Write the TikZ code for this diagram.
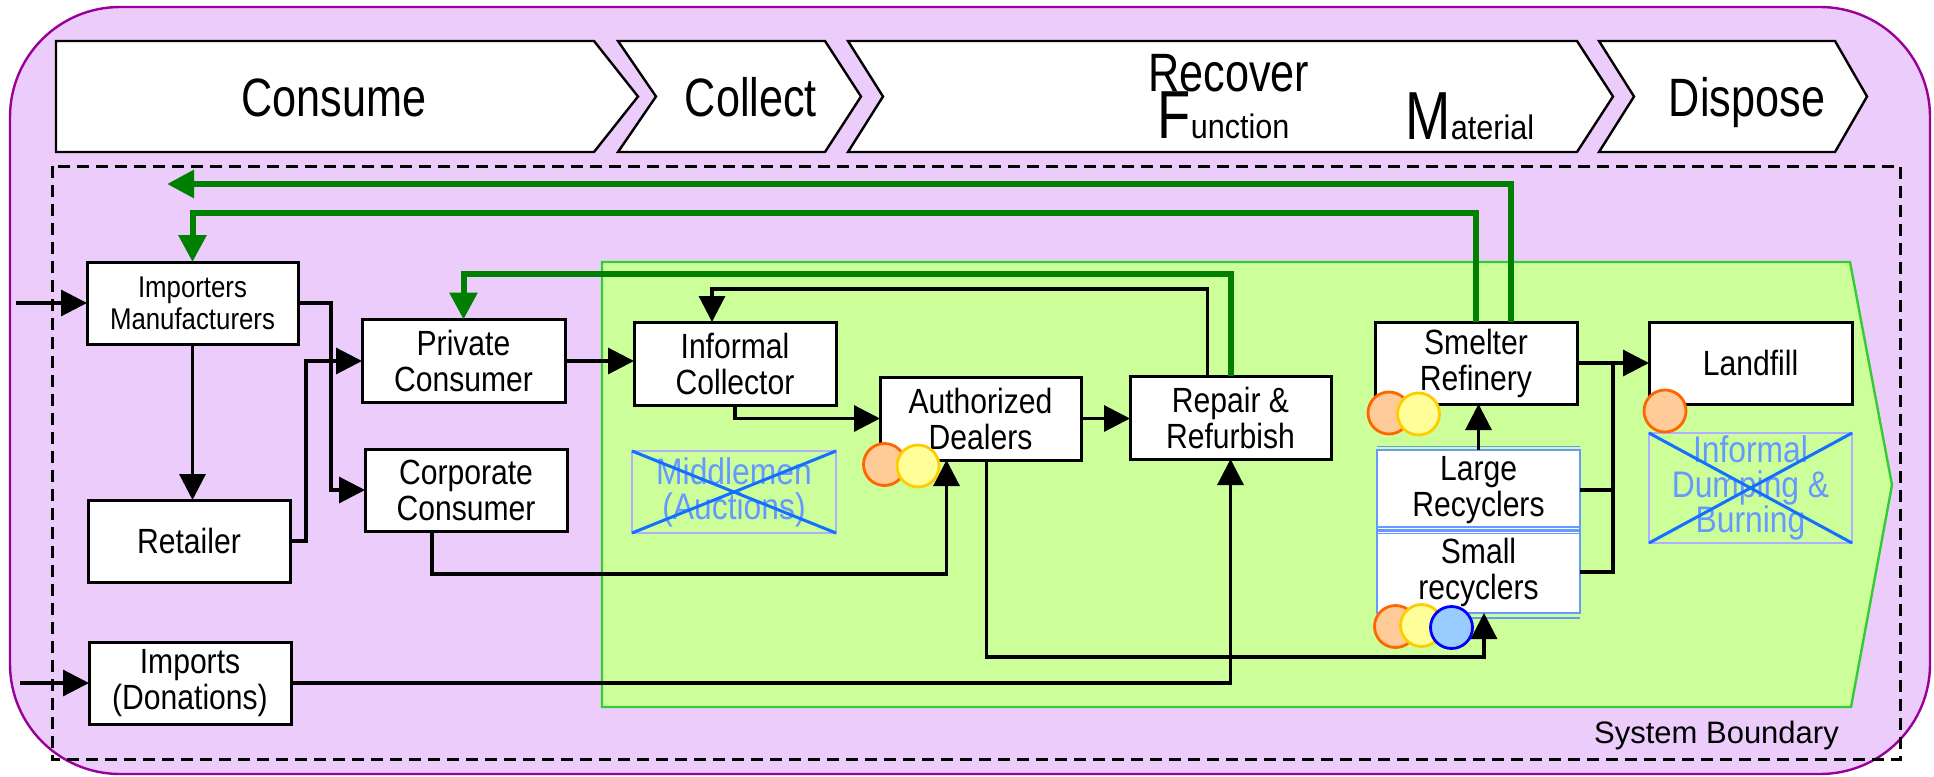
\documentclass[tikz,border=0pt]{standalone}
\usepackage{fontspec}
\setmainfont{Liberation Sans}
\newfontfamily\hdfont[FakeStretch=0.8]{Liberation Sans}
\newfontfamily\bxfont[FakeStretch=0.86]{Liberation Sans}
\newfontfamily\rcfont[FakeStretch=0.9]{Liberation Sans}
\usetikzlibrary{arrows.meta,calc}

\definecolor{lavender}{RGB}{236,204,250}
\definecolor{frame}{RGB}{153,0,153}
\definecolor{zonefill}{RGB}{204,255,153}
\definecolor{zoneline}{RGB}{51,204,51}
\definecolor{loopgreen}{RGB}{0,128,0}
\definecolor{ghostline}{RGB}{175,175,255}
\definecolor{ghosttext}{RGB}{102,153,255}
\definecolor{crossblue}{RGB}{20,110,255}
\definecolor{recblue}{RGB}{102,153,255}
\definecolor{orfill}{RGB}{255,204,153}
\definecolor{orline}{RGB}{255,102,0}
\definecolor{yefill}{RGB}{255,255,153}
\definecolor{yeline}{RGB}{255,204,0}
\definecolor{blfill}{RGB}{153,204,255}
\definecolor{blline}{RGB}{0,0,255}

\begin{document}
\begin{tikzpicture}[x=1pt,y=-1pt,
  chev/.style={draw=black,fill=white,line width=2.4pt,line join=miter},
  hd/.style={inner sep=0pt,font=\hdfont\fontsize{54}{54}\selectfont},
  hdbig/.style={inner sep=0pt,font=\hdfont\fontsize{68}{68}\selectfont},
  hdsmall/.style={inner sep=0pt,font=\rcfont\fontsize{34}{34}\selectfont},
  box/.style={draw=black,fill=white,line width=3pt,inner sep=0pt,outer sep=0pt,
    align=center,font=\bxfont\fontsize{35}{36}\selectfont},
  smallbox/.style={box,font=\bxfont\fontsize{30}{32}\selectfont},
  recbox/.style={draw=recblue,fill=white,line width=2.4pt,inner sep=0pt,outer sep=0pt,
    align=center,font=\bxfont\fontsize{35}{36}\selectfont},
  ghost/.style={draw=ghostline,line width=2.4pt,inner sep=0pt,outer sep=0pt,
    align=center,text=ghosttext,font=\bxfont\fontsize{37}{35}\selectfont},
  xline/.style={draw=crossblue,line width=3pt},
  wire/.style={draw=black,line width=3.2pt},
  conn/.style={wire,-{Triangle[length=26pt,width=26pt]}},
  gconn/.style={draw=loopgreen,line width=6pt,-{Triangle[length=27pt,width=27pt]}},
  dot/.style={circle,inner sep=0pt,outer sep=0pt,minimum size=42pt,line width=2.8pt},
  odot/.style={dot,draw=orline,fill=orfill},
  ydot/.style={dot,draw=yeline,fill=yefill},
  bdot/.style={dot,draw=blline,fill=blfill}]

\useasboundingbox (0,0) rectangle (1934,776);

% outer frame
\draw[fill=lavender,draw=frame,line width=2.4pt,rounded corners=110pt]
  (10,7) rectangle (1930,774);

% process chevrons along the top
\draw[chev] (56,41) -- (594,41) -- (638,96.5) -- (594,152) -- (56,152) -- cycle;
\draw[chev] (618,41) -- (825,41) -- (861,96.5) -- (825,152) -- (618,152) -- (656,96.5) -- cycle;
\draw[chev] (848,41) -- (1577,41) -- (1613,96.5) -- (1577,152) -- (848,152) -- (883,96.5) -- cycle;
\draw[chev] (1599,41) -- (1835,41) -- (1867,96.5) -- (1835,152) -- (1599,152) -- (1634,96.5) -- cycle;

\node[hd,anchor=base] (tConsume) at (334,116) {Consume};
\node[hd,anchor=base] (tCollect) at (751,116) {Collect};
\node[hd,anchor=base] (tDispose) at (1747,116) {Dispose};
\node[hd,anchor=base west] (tRecover) at (1148,92) {Recover};
\node[hdbig,anchor=base west] (tF) at (1157,138) {F};
\node[hdsmall,anchor=base west] (tFun) at (tF.base east) {unction};
\node[hdbig,anchor=base west] (tM) at (1405,139) {M};
\node[hdsmall,anchor=base west] (tMat) at (tM.base east) {aterial};

% green recovery zone
\draw[fill=zonefill,draw=zoneline,line width=2.4pt]
  (602,262) -- (1850,262) -- (1892,485) -- (1851,707) -- (602,707) -- cycle;

% system boundary
\draw[line width=3pt,dash pattern=on 12pt off 7pt] (52,166) rectangle (1900,759);
\node[inner sep=0pt,anchor=base east,font=\fontsize{31}{31}\selectfont] (tBoundary)
  at (1839,743) {System Boundary};

% actors
\node[smallbox,minimum width=211pt,minimum height=82pt] (imp) at (192.5,303) {Importers\\Manufacturers};
\node[box,minimum width=202pt,minimum height=82pt] (ret) at (189,541) {Retailer};
\node[box,minimum width=202pt,minimum height=82pt] (imd) at (190,683) {Imports\\(Donations)};
\node[box,minimum width=203pt,minimum height=83pt] (pc) at (463.5,361) {Private\\Consumer};
\node[box,minimum width=202pt,minimum height=82pt] (cc) at (466,490) {Corporate\\Consumer};
\node[box,minimum width=202pt,minimum height=83pt] (ic) at (735,363.5) {Informal\\Collector};
\node[box,minimum width=201pt,minimum height=83pt] (ad) at (980.5,418.5) {Authorized\\Dealers};
\node[box,minimum width=201pt,minimum height=83pt] (rr) at (1230.5,417.5) {Repair \&\\Refurbish};
\node[box,minimum width=202pt,minimum height=82pt] (sr) at (1476,363) {Smelter\\Refinery};
\node[box,minimum width=203pt,minimum height=82pt] (lf) at (1750.5,363) {Landfill};
\node[recbox,minimum width=203pt,minimum height=80pt] (lr) at (1478.5,490) {Large\\Recyclers};
\node[recbox,minimum width=203pt,minimum height=82pt] (sm) at (1478.5,572) {Small\\recyclers};
\draw[draw=recblue,line width=1.8pt] ([yshift=3.5pt]lr.north west) -- ([yshift=3.5pt]lr.north east);
\draw[draw=recblue,line width=1.8pt] ([yshift=-3.5pt]lr.south west) -- ([yshift=-3.5pt]lr.south east);
\draw[draw=recblue,line width=1.8pt] ([yshift=4pt]sm.north west) -- ([yshift=4pt]sm.north east);
\draw[draw=recblue,line width=1.8pt] ([yshift=-5pt]sm.south west) -- ([yshift=-5pt]sm.south east);

% channels that are crossed out
\node[ghost,minimum width=204pt,minimum height=82pt] (mid) at (734,492) {Middlemen\\(Auctions)};
\draw[xline] (mid.north west) -- (mid.south east);
\draw[xline] (mid.south west) -- (mid.north east);
\node[ghost,minimum width=203pt,minimum height=110pt] (idb) at (1750.5,488) {Informal\\Dumping \&\\Burning};
\draw[xline] (idb.north west) -- (idb.south east);
\draw[xline] (idb.south west) -- (idb.north east);

% flows into the system
\coordinate (inA) at (16,303);
\coordinate (inB) at (20,683);
\draw[conn] (inA) -- (imp.west);
\draw[conn] (inB) -- (imd.west);

% distribution
\draw[conn] (imp.south) -- (imp.south |- ret.north);
\draw[conn] (imp.east) -- ++(33,0) |- (cc.west);
\draw[conn] (ret.east) -- ++(16,0) |- (pc.west);
\draw[conn] (pc.east) -- (pc.east -| ic.west);

% collection and reuse
\draw[conn] (ic.south) |- (ad.west);
\draw[conn] (ad.east) -- (ad.east -| rr.west);
\draw[conn] ([xshift=-23pt]rr.north) -- ++(0,-87) -| ([xshift=-23pt]ic.north);
\draw[conn] ([xshift=-34pt]cc.south) -- ++(0,43) -| ([xshift=-34pt]ad.south);
\draw[conn] ([xshift=6pt]ad.south) -- ++(0,197) -| ([xshift=5.5pt]sm.south);
\draw[conn] (imd.east) -| (rr.south);

% material recovery
\coordinate (jL) at ($(sr.east)!0.5!(lf.west)$);
\draw[conn] (sr.east) -- (lf.west);
\draw[conn] (lr.north) -- (lr.north |- sr.south);
\draw[wire] (lr.east) -| (jL);
\draw[wire] (sm.east) -| (jL);

% closed loops back to the producers
\coordinate (exitL) at (167,184);
\draw[gconn] (rr.north) -- ++(0,-102) -| (pc.north);
\draw[gconn] (sr.north) -- ++(0,-109) -| (imp.north);
\draw[gconn,line join=miter] ([xshift=35pt]sr.north) -- ++(0,-138) -- (exitL);

% hazard markers
\node[odot] (d1o) at (884.5,464.5) {};
\node[ydot] (d1y) at (918,466) {};
\node[odot] (d2o) at (1389,413) {};
\node[ydot] (d2y) at (1418.5,414) {};
\node[odot] (d3o) at (1665,411) {};
\node[odot] (d4o) at (1395.5,626.5) {};
\node[ydot] (d4y) at (1421.5,625.5) {};
\node[bdot] (d4b) at (1451.5,627.5) {};
\end{tikzpicture}
\end{document}
